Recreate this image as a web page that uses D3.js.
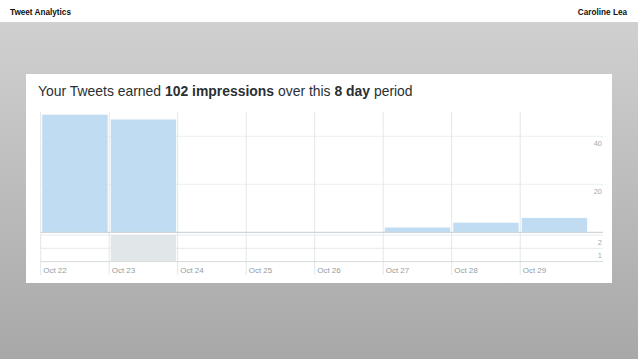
<!DOCTYPE html>
<html>
<head>
<meta charset="utf-8">
<script src="https://cdn.jsdelivr.net/npm/d3@7"></script>
<style>
  body { margin: 0; padding: 0; overflow: hidden; }
  svg { display: block; font-family: "Liberation Sans", Arial, Helvetica, sans-serif; }
</style>
</head>
<body>
<div id="chart"></div>
<script>
// chart data
var days = ["Oct 22", "Oct 23", "Oct 24", "Oct 25", "Oct 26", "Oct 27", "Oct 28", "Oct 29"];
var impressions = [49, 47, 0, 0, 0, 2, 4, 6];
var engagements = [0, 2, 0, 0, 0, 0, 0, 0];
var impressionTicks = [20, 40];
var engagementTicks = [1, 2];

var svgWidth = 638;
var svgHeight = 359;

var svg = d3.select("#chart")
  .append("svg")
  .attr("width", svgWidth)
  .attr("height", svgHeight);

// background gradient
var defs = svg.append("defs");
var grad = defs.append("linearGradient")
  .attr("id", "bg")
  .attr("x1", 0).attr("y1", 0).attr("x2", 0).attr("y2", 1);
grad.append("stop").attr("offset", "0%").attr("stop-color", "#d0d0d0");
grad.append("stop").attr("offset", "100%").attr("stop-color", "#a8a8a8");

svg.append("rect")
  .attr("x", 0).attr("y", 22)
  .attr("width", svgWidth).attr("height", svgHeight - 22)
  .attr("fill", "url(#bg)");

svg.append("rect")
  .attr("x", 0).attr("y", 0)
  .attr("width", svgWidth).attr("height", 22)
  .attr("fill", "#ffffff");

// header
svg.append("text")
  .attr("x", 10).attr("y", 14.5)
  .attr("font-size", "8.2px")
  .attr("font-weight", "bold")
  .attr("fill", "#111")
  .text("Tweet Analytics");

svg.append("text")
  .attr("x", 627).attr("y", 14.5)
  .attr("text-anchor", "end")
  .attr("font-size", "8.2px")
  .attr("font-weight", "bold")
  .attr("fill", "#111")
  .text("Caroline Lea");

// card
svg.append("rect")
  .attr("x", 26).attr("y", 74)
  .attr("width", 586).attr("height", 209)
  .attr("fill", "#ffffff");

// title
var title = svg.append("text")
  .attr("x", 38).attr("y", 95.5)
  .attr("font-size", "14px")
  .attr("fill", "#292f33");
title.append("tspan").text("Your Tweets earned ");
title.append("tspan").attr("font-weight", "bold").text("102 impressions");
title.append("tspan").text(" over this ");
title.append("tspan").attr("font-weight", "bold").text("8 day");
title.append("tspan").text(" period");

// fit title to its width in the picture
var tw = title.node().getComputedTextLength();
if (tw > 0) title.attr("font-size", (14 * 375 / tw) + "px");

// scales
var chartLeft = 40.7;
var chartRight = 588.7;
var lineRight = 603;

var x = d3.scaleBand()
  .domain(days)
  .range([chartLeft, chartRight])
  .paddingInner(0.045)
  .paddingOuter(0.0225);

var colX = d3.scaleBand()
  .domain(days)
  .range([chartLeft, chartRight]);

var yTop = d3.scaleLinear()
  .domain([0, 40])
  .range([232.3, 136.3]);

var yBottom = d3.scaleLinear()
  .domain([0, 2])
  .range([261.6, 235]);

var chart = svg.append("g");

// horizontal gridlines
chart.selectAll(".hTop")
  .data(impressionTicks)
  .enter()
  .append("line")
  .attr("x1", chartLeft).attr("x2", lineRight)
  .attr("y1", d => yTop(d)).attr("y2", d => yTop(d))
  .attr("stroke", "#ebeff1")
  .attr("stroke-width", 1);

chart.selectAll(".hBottom")
  .data(engagementTicks)
  .enter()
  .append("line")
  .attr("x1", chartLeft).attr("x2", lineRight)
  .attr("y1", d => yBottom(d)).attr("y2", d => yBottom(d))
  .attr("stroke", "#e6eaec")
  .attr("stroke-width", 1);

// vertical gridlines
chart.selectAll(".vline")
  .data(days)
  .enter()
  .append("line")
  .attr("x1", d => colX(d)).attr("x2", d => colX(d))
  .attr("y1", 111.5).attr("y2", 275)
  .attr("stroke", "#e3e7ea")
  .attr("stroke-width", 1);

// impression bars
chart.selectAll(".impBar")
  .data(impressions)
  .enter()
  .append("rect")
  .attr("x", (d, i) => x(days[i]))
  .attr("width", x.bandwidth())
  .attr("y", d => yTop(d))
  .attr("height", d => yTop(0) - yTop(d))
  .attr("fill", "#c0dcf2");

// engagement bars
chart.selectAll(".engBar")
  .data(engagements)
  .enter()
  .append("rect")
  .attr("x", (d, i) => x(days[i]))
  .attr("width", x.bandwidth())
  .attr("y", d => yBottom(d))
  .attr("height", d => yBottom(0) - yBottom(d))
  .attr("fill", "#e1e6e9");

// baselines
chart.append("line")
  .attr("x1", chartLeft).attr("x2", lineRight)
  .attr("y1", yTop(0)).attr("y2", yTop(0))
  .attr("stroke", "#cfd5d9")
  .attr("stroke-width", 1.2);

chart.append("line")
  .attr("x1", chartLeft).attr("x2", lineRight)
  .attr("y1", yBottom(0)).attr("y2", yBottom(0))
  .attr("stroke", "#d5dadd")
  .attr("stroke-width", 1);

// y tick labels (hang below their gridline)
chart.selectAll(".tTop")
  .data(impressionTicks)
  .enter()
  .append("text")
  .attr("x", 602)
  .attr("y", d => yTop(d) + 10)
  .attr("text-anchor", "end")
  .attr("font-size", "7.5px")
  .attr("fill", "#a3a9ad")
  .text(d => d);

chart.selectAll(".tBottom")
  .data(engagementTicks)
  .enter()
  .append("text")
  .attr("x", 602)
  .attr("y", d => yBottom(d) + 9.5)
  .attr("text-anchor", "end")
  .attr("font-size", "7.5px")
  .attr("fill", "#a3a9ad")
  .text(d => d);

// x labels
chart.selectAll(".xLabel")
  .data(days)
  .enter()
  .append("text")
  .attr("x", d => colX(d) + 2.5)
  .attr("y", 272.5)
  .attr("font-size", "8px")
  .attr("fill", "#959ca1")
  .text(d => d);
</script>
</body>
</html>
